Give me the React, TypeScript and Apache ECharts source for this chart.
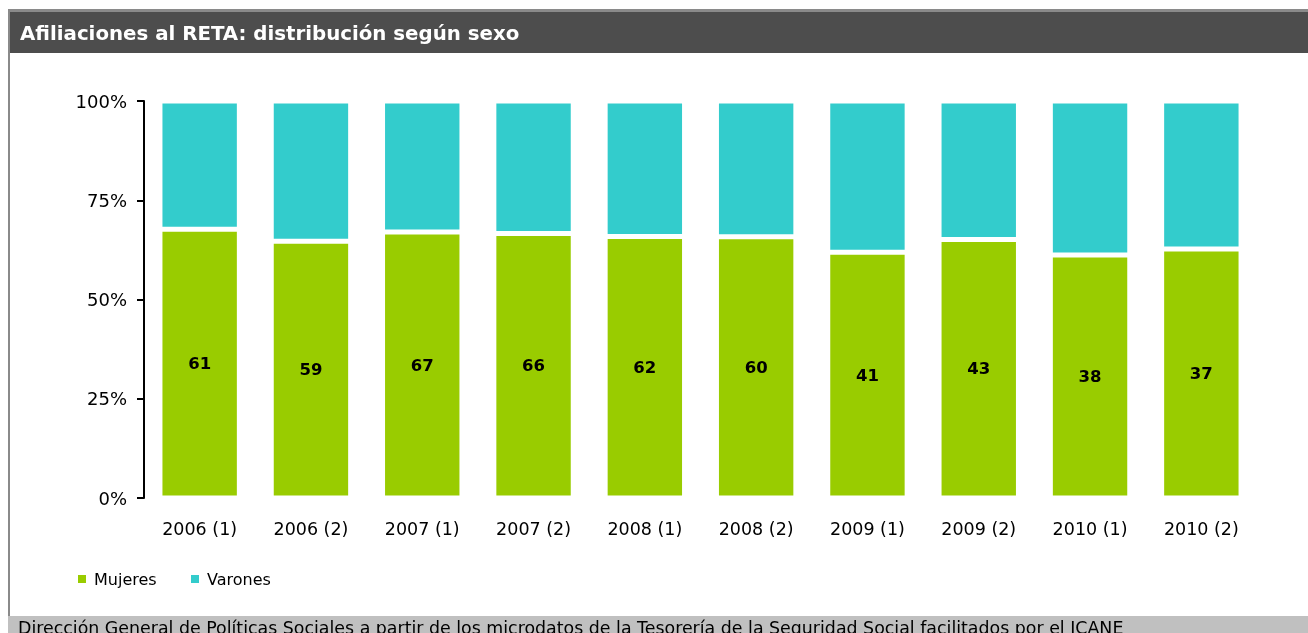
import React, { useEffect, useRef } from "react";
import * as echarts from "echarts";

const categories = ["2006 (1)", "2006 (2)", "2007 (1)", "2007 (2)", "2008 (1)", "2008 (2)", "2009 (1)", "2009 (2)", "2010 (1)", "2010 (2)"];
const mujeresPct = [67.7, 64.7, 67.0, 66.6, 65.9, 65.8, 61.9, 65.1, 61.2, 62.7];
const varonesPct = mujeresPct.map((v) => +(100 - v).toFixed(1));
const mujeresLabels = ["61", "59", "67", "66", "62", "60", "41", "43", "38", "37"];
const yTicks = [0, 25, 50, 75, 100];

const TITLE = "Afiliaciones al RETA: distribución según sexo";
const SOURCE = "Dirección General de Políticas Sociales a partir de los microdatos de la Tesorería de la Seguridad Social facilitados por el ICANE";
const FONT = "'DejaVu Sans', sans-serif";

export default function App() {
  const ref = useRef<HTMLDivElement>(null);
  useEffect(() => {
    if (!ref.current) return;
    const chart = echarts.init(ref.current, undefined, { renderer: "svg" });
    chart.setOption({
      animation: false,
      textStyle: { fontFamily: FONT, color: "#000" },
      graphic: [
        { type: "rect", shape: { x: 8, y: 9, width: 1300, height: 3 }, style: { fill: "#8a8a8a" } },
        { type: "rect", shape: { x: 8, y: 12, width: 1300, height: 41 }, style: { fill: "#4d4d4d" } },
        { type: "rect", shape: { x: 8, y: 9, width: 2, height: 624 }, style: { fill: "#8a8a8a" } },
        { type: "rect", shape: { x: 8, y: 616, width: 1300, height: 17 }, style: { fill: "#c0c0c0" } },
        {
          type: "text", x: 20, y: 33,
          style: { text: TITLE, fill: "#fff", font: `bold 19.8px ${FONT}`, textVerticalAlign: "middle" },
        },
        {
          type: "text", x: 18, y: 619,
          style: { text: SOURCE, fill: "#000", font: `17.4px ${FONT}`, textVerticalAlign: "top" },
        },
      ],
      grid: { left: 144, top: 101, width: 1113, height: 397 },
      legend: [
        {
          data: ["Mujeres"], left: 78, top: 571, padding: 0, icon: "rect", itemWidth: 8, itemHeight: 8,
          itemStyle: { borderWidth: 0 },
          textStyle: { fontSize: 16, color: "#000", fontFamily: FONT, padding: [0, 0, 0, 3] },
        },
        {
          data: ["Varones"], left: 191, top: 571, padding: 0, icon: "rect", itemWidth: 8, itemHeight: 8,
          itemStyle: { borderWidth: 0 },
          textStyle: { fontSize: 16, color: "#000", fontFamily: FONT, padding: [0, 0, 0, 3] },
        },
      ],
      xAxis: {
        type: "category",
        data: categories,
        axisLine: { show: false },
        axisTick: { show: false },
        axisLabel: { fontSize: 17.5, color: "#000", margin: 22 },
      },
      yAxis: {
        type: "value",
        min: yTicks[0],
        max: yTicks[yTicks.length - 1],
        interval: 25,
        axisLine: { show: true, lineStyle: { color: "#000", width: 2 } },
        axisTick: { show: true, length: 7, lineStyle: { color: "#000", width: 2 } },
        splitLine: { show: false },
        axisLabel: { fontSize: 18, color: "#000", margin: 17, formatter: "{value}%" },
      },
      series: [
        {
          name: "Mujeres",
          type: "bar",
          stack: "total",
          barWidth: 79.4,
          data: mujeresPct,
          itemStyle: { color: "#99cc00", borderColor: "#ffffff", borderWidth: 2.5 },
          label: {
            show: true,
            position: "inside",
            formatter: (p: any) => mujeresLabels[p.dataIndex],
            fontSize: 16.5,
            fontWeight: "bold",
            color: "#000",
            fontFamily: FONT,
          },
        },
        {
          name: "Varones",
          type: "bar",
          stack: "total",
          barWidth: 79.4,
          data: varonesPct,
          itemStyle: { color: "#33cccc", borderColor: "#ffffff", borderWidth: 2.5 },
        },
      ],
    });
    return () => chart.dispose();
  }, []);
  return <div ref={ref} style={{ position: "fixed", left: 0, top: 0, width: 1308, height: 633 }} />;
}
